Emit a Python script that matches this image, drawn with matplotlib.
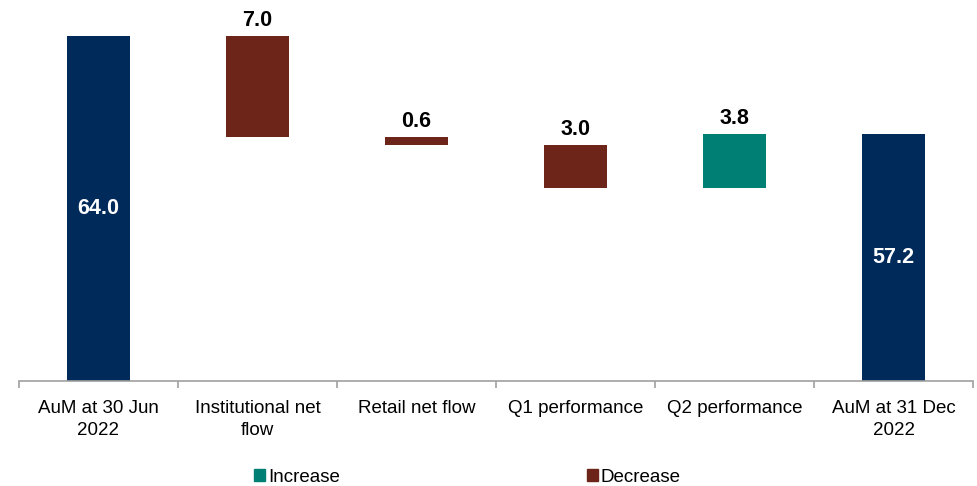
# AuM waterfall chart
import numpy as np
import matplotlib
matplotlib.use('Agg')
import matplotlib.pyplot as plt
from matplotlib.patches import Patch

plt.rcParams['font.family'] = ['Liberation Sans', 'DejaVu Sans']

categories = ['AuM at 30 Jun\n2022', 'Institutional net\nflow', 'Retail net flow',
              'Q1 performance', 'Q2 performance', 'AuM at 31 Dec\n2022']
start_aum = 64.0
changes = [-7.0, -0.6, -3.0, 3.8]
end_aum = 57.2
value_labels = ['64.0', '7.0', '0.6', '3.0', '3.8', '57.2']

navy = '#002A5A'
brown = '#6E2519'
teal = '#008074'
ymin, ymax = 40, 65

# bottoms / heights of the floating bars
bottoms = [ymin]
heights = [start_aum - ymin]
colors = [navy]
level = start_aum
for c in changes:
    new = level + c
    bottoms.append(min(level, new))
    heights.append(abs(c))
    colors.append(teal if c > 0 else brown)
    level = new
bottoms.append(ymin)
heights.append(end_aum - ymin)
colors.append(navy)

fig = plt.figure(figsize=(9.78, 4.86), dpi=100)
ax = fig.add_axes([19/978, 105/486, 954/978, (381-21.6)/486])

x = np.arange(len(categories))
ax.bar(x, heights, bottom=bottoms, width=0.4, color=colors, edgecolor='none')

for i in range(len(x)):
    if colors[i] == navy:
        ax.text(x[i], bottoms[i] + heights[i]/2, value_labels[i], ha='center', va='center',
                color='white', fontsize=15.5, fontweight='bold')
    else:
        ax.annotate(value_labels[i], (x[i], bottoms[i] + heights[i]), xytext=(0, 3.5),
                    textcoords='offset points', ha='center', va='bottom',
                    fontsize=15.5, fontweight='bold', color='black')

ax.set_xlim(-0.5, len(categories) - 0.5)
ax.set_ylim(ymin, ymax)
for s in ['top', 'right', 'left']:
    ax.spines[s].set_visible(False)
ax.spines['bottom'].set_color('#A0A0A0')
ax.spines['bottom'].set_linewidth(1.2)
ax.set_yticks([])
ax.set_xticks(x)
ax.set_xticklabels(categories, fontsize=13.5, linespacing=1.35)
ax.set_xticks(np.arange(-0.5, len(categories), 1.0), minor=True)
ax.tick_params(axis='x', which='major', length=0, pad=14)
ax.tick_params(axis='x', which='minor', length=5, color='#A0A0A0', width=1.2)

leg1 = fig.legend(handles=[Patch(color=teal, label='Increase')], loc='center left',
                  bbox_to_anchor=(237/978, 1 - 477/486), frameon=False, fontsize=13.5,
                  handlelength=0.6, handleheight=0.6, handletextpad=0.15)
leg2 = fig.legend(handles=[Patch(color=brown, label='Decrease')], loc='center left',
                  bbox_to_anchor=(570/978, 1 - 477/486), frameon=False, fontsize=13.5,
                  handlelength=0.6, handleheight=0.6, handletextpad=0.15)

fig.savefig('out.png', dpi=100)
